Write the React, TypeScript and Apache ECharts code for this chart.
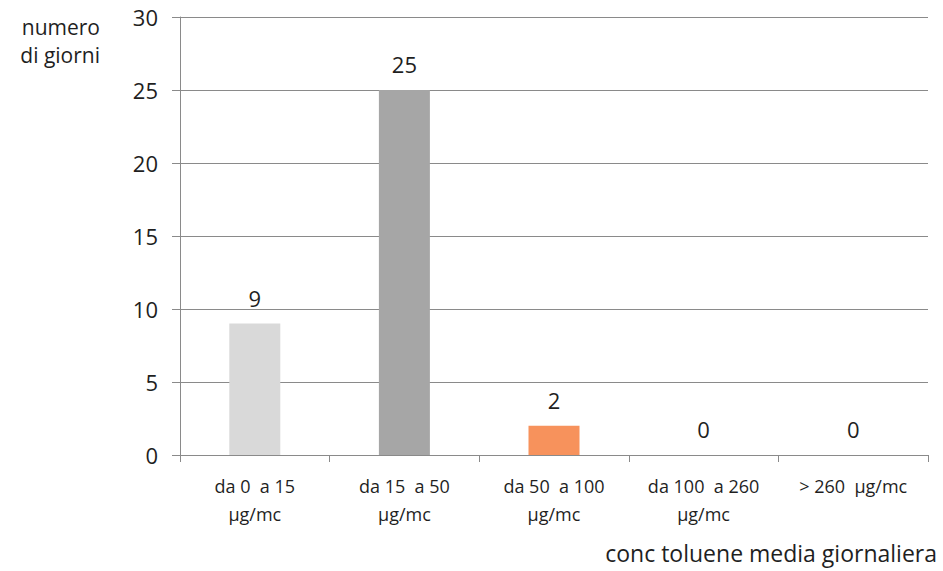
import React, { useEffect, useRef } from "react";
import * as echarts from "echarts";

const categories = [
  "da 0  a 15\nµg/mc",
  "da 15  a 50\nµg/mc",
  "da 50  a 100\nµg/mc",
  "da 100  a 260\nµg/mc",
  "> 260  µg/mc",
];
const days = [9, 25, 2, 0, 0];
const barColors = ["#d9d9d9", "#a6a6a6", "#f7925c", "#d9d9d9", "#d9d9d9"];
const yTicks = { min: 0, max: 30, interval: 5 };
const yNameLines = ["numero", "di giorni"];
const xName = "conc toluene media giornaliera";

const FONT = "'Open Sans', Lato, sans-serif";
const TEXT = "#1f1f1f";
const LINE = "#8a8a8a";

export default function App() {
  const ref = useRef<HTMLDivElement>(null);

  useEffect(() => {
    if (!ref.current) return;
    const chart = echarts.init(ref.current, null, { renderer: "svg" });
    chart.setOption({
      animation: false,
      backgroundColor: "#ffffff",
      textStyle: { fontFamily: FONT, color: TEXT },
      grid: { left: 180, right: 15, top: 17, bottom: 116, containLabel: false },
      xAxis: {
        type: "category",
        data: categories,
        axisLine: { show: true, lineStyle: { color: LINE, width: 1 } },
        axisTick: { show: true, length: 7, lineStyle: { color: LINE } },
        axisLabel: {
          color: TEXT,
          fontFamily: FONT,
          fontSize: 18,
          lineHeight: 28,
          margin: 17,
          interval: 0,
        },
      },
      yAxis: {
        type: "value",
        min: yTicks.min,
        max: yTicks.max,
        interval: yTicks.interval,
        axisLine: { show: true, lineStyle: { color: LINE, width: 1 } },
        axisTick: { show: true, inside: false, length: 8, lineStyle: { color: LINE } },
        splitLine: { show: true, lineStyle: { color: LINE, width: 1 } },
        axisLabel: { color: TEXT, fontFamily: FONT, fontSize: 22, margin: 22 },
      },
      graphic: [
        ...yNameLines.map((line, i) => ({
          type: "text",
          x: 100,
          y: 27 + i * 28,
          style: {
            text: line,
            font: `21px ${FONT}`,
            fill: TEXT,
            align: "right",
            verticalAlign: "middle",
          },
        })),
        {
          type: "text",
          x: 937,
          y: 553,
          style: {
            text: xName,
            font: `23px ${FONT}`,
            fill: TEXT,
            align: "right",
            verticalAlign: "middle",
          },
        },
      ],
      series: [
        {
          type: "bar",
          barWidth: 51,
          data: days.map((v, i) => ({ value: v, itemStyle: { color: barColors[i] } })),
          label: {
            show: true,
            position: "top",
            distance: 15,
            fontSize: 22,
            fontFamily: FONT,
            color: TEXT,
          },
        },
      ],
    });
    return () => chart.dispose();
  }, []);

  return <div ref={ref} style={{ width: 943, height: 571, position: "absolute", left: 0, top: 0 }} />;
}
